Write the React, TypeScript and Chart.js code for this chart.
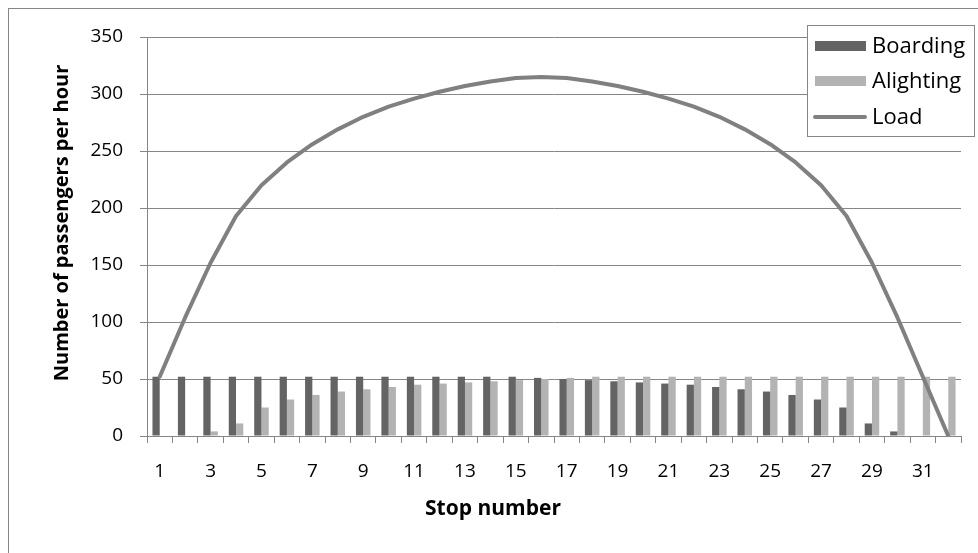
import React, { useEffect, useRef } from "react";
import { Chart, registerables } from "chart.js";

Chart.register(...registerables);

const stops: string[] = Array.from({ length: 32 }, (_, i) => String(i + 1));

const boarding: number[] = [
  52, 52, 52, 52, 52, 52, 52, 52, 52, 52, 52, 52, 52, 52, 52, 51,
  50, 49, 48, 47, 46, 45, 43, 41, 39, 36, 32, 25, 11, 4, 0, 0,
];

const alighting: number[] = [
  0, 0, 4, 11, 25, 32, 36, 39, 41, 43, 45, 46, 47, 48, 49, 50,
  51, 52, 52, 52, 52, 52, 52, 52, 52, 52, 52, 52, 52, 52, 52, 52,
];

const load: number[] = [
  52, 104, 152, 193, 220, 240, 256, 269, 280, 289, 296, 302, 307, 311, 314, 315,
  314, 311, 307, 302, 296, 289, 280, 269, 256, 240, 220, 193, 152, 104, 52, 0,
];

const yTicks: number[] = [0, 50, 100, 150, 200, 250, 300, 350];

const seriesNames = ["Boarding", "Alighting", "Load"];
const xTitle = "Stop number";
const yTitle = "Number of passengers per hour";

const DARK = "#646464";
const LIGHT = "#b3b3b3";
const LINE = "#808080";
const GRID = "#868686";
const FONT = "'Open Sans', sans-serif";

const decorPlugin = {
  id: "decor",
  afterDraw(chart: any) {
    const ctx = chart.ctx;
    ctx.save();
    // outer chart border
    ctx.strokeStyle = GRID;
    ctx.lineWidth = 1;
    ctx.strokeRect(8.5, 8.5, 1200, 1200);

    // axis titles
    ctx.fillStyle = "#000";
    ctx.font = `bold 21px ${FONT}`;
    ctx.textAlign = "center";
    ctx.textBaseline = "middle";
    ctx.fillText(xTitle, 493, 509);

    ctx.save();
    ctx.translate(62, 223);
    ctx.rotate(-Math.PI / 2);
    ctx.font = `bold 20px ${FONT}`;
    ctx.fillText(yTitle, 0, 0);
    ctx.restore();

    // legend
    const lx = 807.5, ly = 25.5, lw = 167, lh = 111;
    ctx.fillStyle = "#fff";
    ctx.fillRect(lx, ly, lw, lh);
    ctx.strokeStyle = GRID;
    ctx.strokeRect(lx, ly, lw, lh);
    const ds = chart.data.datasets;
    const rows = [46, 81, 117];
    ds.forEach((d: any, i: number) => {
      const cy = rows[i];
      if (d.type === "line") {
        ctx.strokeStyle = d.borderColor;
        ctx.lineWidth = 4;
        ctx.lineCap = "round";
        ctx.beginPath();
        ctx.moveTo(815, cy);
        ctx.lineTo(865, cy);
        ctx.stroke();
      } else {
        ctx.fillStyle = d.backgroundColor;
        ctx.fillRect(815, cy - 5, 51, 10);
      }
      ctx.fillStyle = "#000";
      ctx.font = `22px ${FONT}`;
      ctx.textAlign = "left";
      ctx.textBaseline = "middle";
      ctx.fillText(d.label, 872, cy + 1);
    });
    ctx.restore();
  },
};

export default function App() {
  const ref = useRef<HTMLCanvasElement | null>(null);

  useEffect(() => {
    if (!ref.current) return;
    const chart = new Chart(ref.current, {
      type: "bar",
      data: {
        labels: stops,
        datasets: [
          {
            type: "bar",
            label: seriesNames[0],
            data: boarding,
            backgroundColor: DARK,
            borderWidth: 0,
            categoryPercentage: 0.571,
            barPercentage: 1,
            order: 1,
          },
          {
            type: "bar",
            label: seriesNames[1],
            data: alighting,
            backgroundColor: LIGHT,
            borderWidth: 0,
            categoryPercentage: 0.571,
            barPercentage: 1,
            order: 1,
          },
          {
            type: "line",
            label: seriesNames[2],
            data: load,
            borderColor: LINE,
            backgroundColor: LINE,
            borderWidth: 4,
            pointRadius: 0,
            tension: 0,
            borderCapStyle: "round",
            borderJoinStyle: "round",
            fill: false,
            order: 0,
          } as any,
        ],
      },
      options: {
        responsive: false,
        animation: false,
        devicePixelRatio: 1,
        layout: { padding: { top: 37, right: 17, left: 0, bottom: 0 } },
        plugins: {
          legend: { display: false },
          tooltip: { enabled: false },
        },
        scales: {
          x: {
            type: "category",
            offset: true,
            afterFit: (s: any) => {
              s.height = 117;
            },
            grid: {
              display: true,
              offset: true,
              drawOnChartArea: false,
              drawTicks: true,
              tickLength: 7,
              color: GRID,
            },
            border: { display: true, color: GRID, width: 1 },
            ticks: {
              autoSkip: false,
              maxRotation: 0,
              minRotation: 0,
              padding: 17,
              color: "#000",
              font: { family: FONT, size: 19 },
              callback: (_v: any, i: number) => (i % 2 === 0 ? stops[i] : ""),
            },
          },
          y: {
            min: 0,
            max: 350,
            afterFit: (s: any) => {
              s.width = 147;
            },
            afterBuildTicks: (s: any) => {
              s.ticks = yTicks.map((v) => ({ value: v }));
            },
            grid: {
              color: GRID,
              lineWidth: 1,
              tickLength: 7,
            },
            border: { display: true, color: GRID, width: 1 },
            ticks: {
              padding: 17,
              color: "#000",
              font: { family: FONT, size: 19 },
            },
          },
        },
      },
      plugins: [decorPlugin],
    });
    return () => chart.destroy();
  }, []);

  return (
    <div style={{ position: "fixed", left: 0, top: 0, width: 978, height: 553, background: "#fff" }}>
      <canvas ref={ref} width={978} height={553} style={{ display: "block", width: 978, height: 553 }} />
    </div>
  );
}
